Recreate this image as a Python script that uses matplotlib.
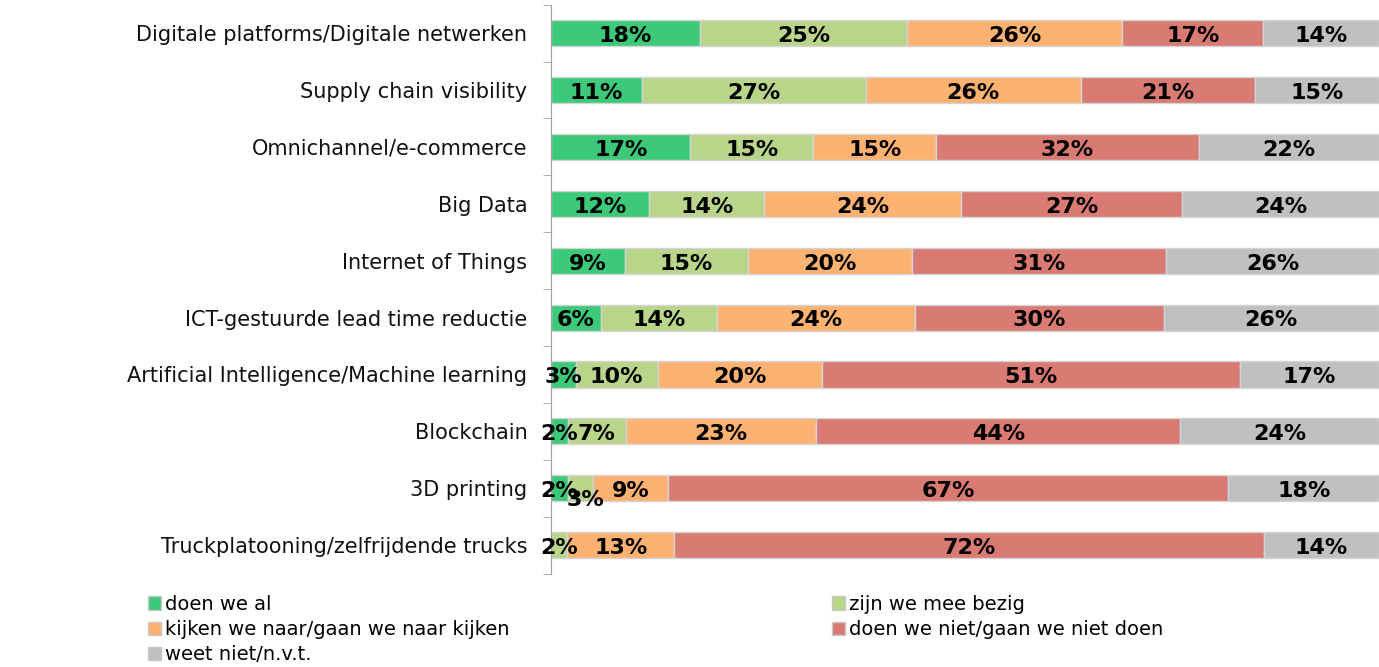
import numpy as np
from matplotlib import pyplot as plt
from matplotlib.patches import Patch

categories = [
    'Digitale platforms/Digitale netwerken',
    'Supply chain visibility',
    'Omnichannel/e-commerce',
    'Big Data',
    'Internet of Things',
    'ICT-gestuurde lead time reductie',
    'Artificial Intelligence/Machine learning',
    'Blockchain',
    '3D printing',
    'Truckplatooning/zelfrijdende trucks',
]
series = [
    'doen we al',
    'zijn we mee bezig',
    'kijken we naar/gaan we naar kijken',
    'doen we niet/gaan we niet doen',
    'weet niet/n.v.t.',
]
doen_al = [18, 11, 17, 12, 9, 6, 3, 2, 2, 0]
mee_bezig = [25, 27, 15, 14, 15, 14, 10, 7, 3, 2]
kijken = [26, 26, 15, 24, 20, 24, 20, 23, 9, 13]
niet_doen = [17, 21, 32, 27, 31, 30, 51, 44, 67, 72]
weet_niet = [14, 15, 22, 24, 26, 26, 17, 24, 18, 14]

colors = ['#3cc97a', '#b9d58a', '#fdb272', '#d97a73', '#c0c0c0']


def main():
    values = np.array([doen_al, mee_bezig, kijken, niet_doen, weet_niet], dtype=float)
    widths = values / values.sum(axis=0) * 100

    fig = plt.figure(figsize=(13.79, 6.67), dpi=100)
    ax = fig.add_axes([0.3996, 0.140, 0.6004, 0.853])

    y = np.arange(len(categories))
    left = np.zeros(len(categories))
    for i, name in enumerate(series):
        ax.barh(y, widths[i], left=left, height=0.46, color=colors[i],
                edgecolor='#d4d4d4', linewidth=1, label=name)
        for j in range(len(categories)):
            if values[i, j] == 0:
                continue
            dy = 0.05
            dx = 0
            # overlapping label in the 3D printing row is pushed down
            if categories[j] == '3D printing' and i == 1:
                dy, dx = 0.2, 0.6
            ax.text(left[j] + widths[i, j] / 2 + dx, y[j] + dy,
                    f'{int(values[i, j])}%', ha='center', va='center',
                    fontsize=16, fontweight='bold', color='black')
        left += widths[i]

    ax.set_xlim(0, 100)
    ax.set_ylim(len(categories) - 0.5, -0.5)
    ax.set_xticks([])
    ax.set_yticks(y)
    ax.set_yticklabels(categories, fontsize=15, color='#111111')
    ax.set_yticks(np.arange(-0.5, len(categories)), minor=True)
    ax.tick_params(axis='y', which='major', length=0, pad=17)
    ax.tick_params(axis='y', which='minor', length=6, color='#a0a0a0')
    for side in ['top', 'right', 'bottom']:
        ax.spines[side].set_visible(False)
    ax.spines['left'].set_color('#a0a0a0')

    handles = [Patch(facecolor=c, edgecolor='#c8c8c8') for c in colors]
    opts = dict(frameon=False, fontsize=14, handlelength=0.7, handleheight=0.7,
                handletextpad=0.2, labelspacing=0.32, loc='upper left',
                borderaxespad=0, borderpad=0)
    fig.legend([handles[0], handles[2], handles[4]],
               [series[0], series[2], series[4]],
               bbox_to_anchor=(0.107, 0.108), **opts)
    fig.legend([handles[1], handles[3]], [series[1], series[3]],
               bbox_to_anchor=(0.603, 0.108), **opts)

    fig.savefig('out.png', dpi=100)


if __name__ == '__main__':
    main()
